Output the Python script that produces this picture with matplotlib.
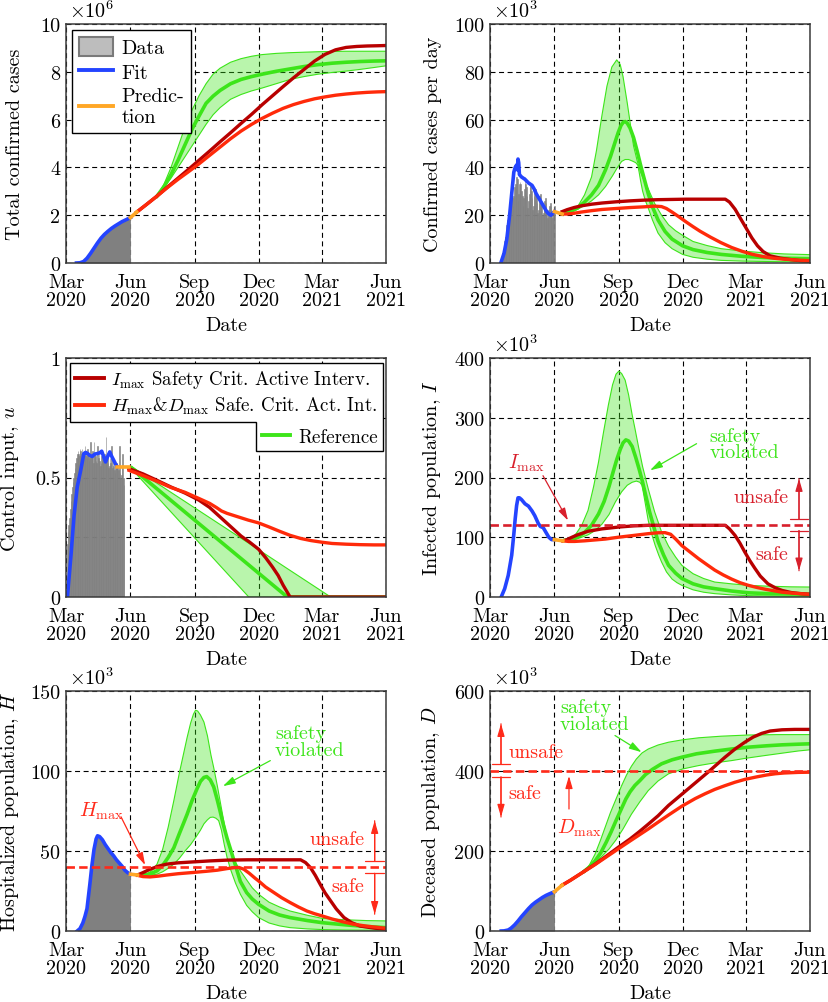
import numpy as np
import matplotlib
matplotlib.use("Agg")
import matplotlib.pyplot as plt
from matplotlib.patches import Patch, Polygon, ArrowStyle
from matplotlib.lines import Line2D

# ---------------- data (x = days since 1 Mar 2020) ----------------
month_days = [0, 92, 184, 275, 365, 457]
month_labels = ["Mar\n2020", "Jun\n2020", "Sep\n2020", "Dec\n2020", "Mar\n2021", "Jun\n2021"]

# Panel 1: total confirmed cases (x10^6)
tot_fit_day = [15, 20, 25, 30, 35, 40, 45, 50, 55, 60, 65, 70, 75, 80, 85, 92]
tot_fit_val = [0.0, 0.01, 0.06, 0.2, 0.4, 0.62, 0.84, 1.04, 1.2, 1.33, 1.45, 1.55, 1.64, 1.73, 1.8, 1.9]
tot_pred_day = [92, 101]
tot_pred_val = [1.9, 2.13]
tot_red_day = [101, 115, 130, 145, 160, 175, 190, 205, 220, 235, 250, 265, 280, 295, 310, 325, 340, 355, 370, 385, 400, 415, 430, 445, 457]
tot_imax_val = [2.13, 2.45, 2.8, 3.18, 3.55, 3.92, 4.3, 4.68, 5.07, 5.45, 5.84, 6.22, 6.62, 7.0, 7.38, 7.75, 8.1, 8.45, 8.73, 8.92, 9.02, 9.06, 9.08, 9.09, 9.1]
tot_hd_val = [2.13, 2.45, 2.8, 3.16, 3.5, 3.82, 4.15, 4.5, 4.85, 5.2, 5.52, 5.8, 6.05, 6.27, 6.47, 6.63, 6.76, 6.87, 6.95, 7.02, 7.07, 7.11, 7.14, 7.16, 7.17]
tot_ref_day = [130, 140, 150, 160, 170, 180, 190, 200, 210, 220, 235, 250, 265, 280, 300, 320, 340, 360, 380, 400, 420, 440, 457]
tot_ref_mean = [2.8, 3.2, 3.7, 4.3, 4.95, 5.6, 6.15, 6.68, 6.98, 7.22, 7.5, 7.68, 7.8, 7.9, 8.02, 8.12, 8.22, 8.3, 8.36, 8.4, 8.43, 8.45, 8.46]
tot_ref_up = [2.8, 3.3, 4.0, 4.85, 5.7, 6.4, 7.0, 7.5, 7.9, 8.15, 8.4, 8.55, 8.65, 8.72, 8.77, 8.8, 8.82, 8.84, 8.85, 8.86, 8.86, 8.86, 8.86]
tot_ref_lo = [2.8, 3.15, 3.55, 4.0, 4.45, 4.9, 5.35, 5.8, 6.2, 6.5, 6.85, 7.05, 7.2, 7.32, 7.5, 7.68, 7.8, 7.9, 7.97, 8.03, 8.1, 8.18, 8.25]

# Panel 2: confirmed cases per day (x10^3)
daily_data_day = list(range(14, 93))
daily_data_val = [0.5, 1, 1.5, 2.5, 4, 5.5, 7,
                  9, 11, 13, 16, 18, 20, 19,
                  22, 25, 27, 29, 27, 24, 28,
                  32, 33, 31, 36, 35, 26, 29,
                  33, 34, 33, 30, 28, 24, 27,
                  31, 36, 33, 32, 28, 23, 26,
                  29, 32, 33, 30, 27, 22, 24,
                  28, 30, 31, 29, 25, 21, 22,
                  25, 28, 29, 27, 24, 20, 21,
                  23, 26, 27, 25, 22, 19, 20,
                  22, 24, 25, 24, 21, 19, 20,
                  22, 24]
daily_fit_day = [16, 20, 24, 28, 31, 34, 36, 38, 39, 40, 41, 42, 45, 50, 55, 60, 63, 66, 69, 72, 75, 78, 81, 84, 87, 90, 92]
daily_fit_val = [0.5, 4, 10, 20, 29, 38, 40, 41, 39, 43.5, 42, 37, 36, 35, 33.5, 32.5, 31, 29, 27.5, 26, 24.5, 23, 21.5, 20.5, 20, 21, 21.5]
daily_pred_day = [92, 103]
daily_pred_val = [21.5, 20.5]
daily_imax_day = [103, 110, 120, 130, 145, 160, 180, 200, 220, 240, 260, 280, 300, 320, 336, 342, 350, 358, 366, 374, 382, 390, 400, 415, 430, 445, 457]
daily_imax_val = [21.5, 22.3, 23.2, 23.9, 24.6, 25.1, 25.6, 26.0, 26.3, 26.5, 26.6, 26.7, 26.7, 26.7, 26.7, 25.5, 22.5, 18.5, 14.5, 10.5, 7.2, 4.8, 3.0, 2.0, 1.4, 0.9, 0.7]
daily_hd_day = [103, 110, 120, 130, 145, 160, 180, 200, 220, 235, 245, 252, 260, 270, 280, 290, 300, 315, 330, 345, 360, 375, 390, 405, 420, 440, 457]
daily_hd_val = [20.5, 20.5, 20.8, 21.3, 21.9, 22.4, 22.8, 23.2, 23.5, 23.8, 23.6, 22.8, 21.3, 19.3, 17.2, 15.2, 13.3, 10.8, 8.5, 6.5, 4.9, 3.6, 2.7, 2.0, 1.6, 1.2, 1.0]
daily_mean_day = [105, 115, 125, 135, 145, 155, 165, 172, 178, 183, 187, 190, 193, 196, 200, 205, 210, 215, 220, 226, 232, 240, 250, 260, 275, 290, 310, 330, 360, 390, 420, 457]
daily_mean_val = [20.8, 21.5, 23, 25.5, 28.5, 32.5, 39, 44.5, 50, 54.5, 57.5, 58.8, 59.2, 58.5, 56.5, 52.5, 47, 41, 35.5, 29, 23.5, 18, 13.2, 10, 7.2, 5.6, 4.4, 3.6, 2.8, 2.3, 2.0, 1.8]
daily_up_day = [105, 115, 125, 135, 145, 152, 160, 167, 174, 181, 186, 190, 196, 200, 205, 210, 215, 220, 226, 235, 245, 255, 265, 275, 290, 310, 330, 360, 390, 420, 457]
daily_up_val = [20.8, 21.8, 23.5, 28.5, 36, 47, 62, 74, 82, 85, 83, 78, 67, 59, 49, 43, 38, 34.5, 31, 25, 20, 16, 13.5, 11.6, 9, 7.3, 6, 5, 4.3, 3.8, 3.5]
daily_lo_day = [105, 115, 125, 135, 145, 155, 165, 175, 182, 188, 193, 198, 203, 208, 211, 213, 215, 218, 222, 226, 232, 240, 250, 260, 275, 290, 310, 330, 360, 400, 457]
daily_lo_val = [20.8, 21.3, 22.5, 24, 26, 28.5, 32, 36.5, 40, 42.5, 43.3, 43.3, 42.7, 42, 41, 38, 34.5, 30, 26, 23, 18, 12.5, 8.5, 6, 3.6, 2.4, 1.6, 1.1, 0.8, 0.6, 0.4]

# Panel 3: control input u
u_data_day = list(range(2, 84))
u_data_val = [0.22, 0.27, 0.30, 0.33, 0.37, 0.40, 0.43,
              0.46, 0.48, 0.50, 0.52, 0.54, 0.56, 0.58,
              0.60, 0.61, 0.60, 0.59, 0.62, 0.61, 0.60,
              0.62, 0.60, 0.58, 0.59, 0.63, 0.60, 0.59,
              0.58, 0.62, 0.60, 0.57, 0.58, 0.65, 0.59,
              0.58, 0.61, 0.56, 0.65, 0.60, 0.59, 0.57,
              0.56, 0.63, 0.58, 0.60, 0.57, 0.55, 0.56,
              0.59, 0.60, 0.58, 0.57, 0.60, 0.56, 0.67,
              0.57, 0.59, 0.56, 0.54, 0.55, 0.58, 0.56,
              0.63, 0.54, 0.57, 0.55, 0.53, 0.52, 0.55,
              0.56, 0.55, 0.54, 0.53, 0.63, 0.52, 0.50,
              0.51, 0.55, 0.60, 0.50, 0.47]
u_fit_day = [2, 7, 11.5, 16, 21, 25.5, 28, 31, 34, 37.5, 41, 44.5, 48, 51, 54, 56.5, 59, 62.5, 65, 68.5, 71, 73.5]
u_fit_val = [0.0, 0.17, 0.34, 0.46, 0.53, 0.60, 0.605, 0.60, 0.592, 0.588, 0.598, 0.60, 0.603, 0.61, 0.585, 0.565, 0.585, 0.607, 0.59, 0.57, 0.555, 0.544]
u_pred_day = [73.5, 90]
u_pred_val = [0.544, 0.544]
u_imax_day = [90, 110, 130, 150, 170, 190, 205, 220, 235, 250, 262, 275, 285, 295, 303, 310, 315, 320, 457]
u_imax_val = [0.537, 0.515, 0.488, 0.46, 0.435, 0.405, 0.375, 0.335, 0.295, 0.255, 0.23, 0.2, 0.165, 0.125, 0.09, 0.05, 0.025, 0.0, 0.0]
u_hd_day = [90, 110, 130, 150, 170, 190, 205, 215, 222, 230, 245, 260, 275, 290, 305, 320, 335, 350, 366, 380, 400, 420, 440, 457]
u_hd_val = [0.53, 0.508, 0.484, 0.458, 0.438, 0.412, 0.392, 0.374, 0.36, 0.35, 0.336, 0.322, 0.31, 0.293, 0.275, 0.258, 0.245, 0.236, 0.229, 0.224, 0.221, 0.219, 0.218, 0.218]
u_ref_day = [94, 261, 316, 378, 457]
u_ref_mean = [0.54, 0.134, 0.0, 0.0, 0.0]
u_ref_up = [0.545, 0.225, 0.119, 0.0, 0.0]
u_ref_lo = [0.535, 0.0, 0.0, 0.0, 0.0]

# Panel 4: infected population I (x10^3)
inf_fit_day = [16, 21, 26, 31, 34, 36, 38, 40, 42, 45, 50, 55, 60, 64, 69, 72, 76, 80, 84, 88, 92]
inf_fit_val = [0, 14, 36, 70, 105, 131, 153, 166, 166, 163, 156, 152, 144, 136, 123, 118, 116, 108, 100, 96, 96]
inf_pred_day = [92, 104]
inf_pred_val = [96, 94]
inf_imax_day = [104, 110, 117, 125, 140, 160, 183, 205, 226, 260, 300, 336, 342, 350, 357, 364, 371, 378, 386, 397, 408, 417, 430, 445, 457]
inf_imax_val = [94, 96, 100, 104, 110, 114, 117, 119, 120, 120, 120, 120, 114, 103, 90, 75, 61, 48.5, 35, 22, 15, 11, 7.5, 5.5, 4.5]
inf_hd_day = [104, 112, 121, 135, 150, 165, 183, 205, 226, 240, 250, 258, 266, 274, 286, 298, 310, 321, 333, 345, 357, 369, 381, 393, 417, 437, 457]
inf_hd_val = [94, 93, 93, 94, 95.5, 97, 100, 103, 106, 107.5, 107.7, 105, 96, 86, 75, 64, 54, 45, 37, 30, 24, 19.5, 16, 13, 8, 6, 4.5]
inf_mean_day = [107, 115, 125, 135, 145, 155, 163, 170, 176, 181, 186, 190, 194, 198, 203, 208, 213, 218, 223, 228, 234, 240, 248, 255, 265, 274, 290, 305, 321, 345, 369, 400, 430, 457]
inf_mean_val = [95, 96, 100, 108, 120, 139, 160, 185, 210, 230, 247, 258, 263, 261, 252, 234, 214, 192, 167, 142, 117, 93, 70, 53, 40, 31, 22, 17, 14, 10, 7, 5.5, 5, 4.5]
inf_up_day = [107, 115, 123, 131, 140, 148, 155, 162, 169, 175, 180, 184, 188, 193, 198, 203, 207, 212, 218, 226, 235, 245, 255, 265, 274, 290, 305, 321, 345, 369, 400, 430, 457]
inf_up_val = [95, 98, 106, 120, 145, 185, 226, 275, 321, 355, 373, 378, 374, 363, 338, 305, 282, 252, 218, 181, 143, 109, 85, 67, 53, 39, 31, 25, 22, 19.5, 18, 17, 16.7]
inf_lo_day = [107, 115, 123, 131, 140, 150, 160, 170, 179, 188, 196, 203, 209, 214, 217, 219, 222, 226, 231, 236, 241, 245, 252, 260, 267, 274, 290, 305, 321, 345, 369, 400, 430, 457]
inf_lo_val = [95, 95, 97, 100, 104, 111, 122, 138, 159, 176, 187, 192, 194, 192, 187, 175, 155, 128, 105, 86, 70, 58.6, 42, 30, 24, 19.5, 12, 8, 5.6, 3.5, 2.3, 1.6, 1.2, 1.0]
I_MAX = 120

# Panel 5: hospitalized population H (x10^3)
hos_fit_day = [16, 20, 24, 27, 30, 34, 37, 40, 43, 45, 48, 52, 56, 60, 64, 68, 72, 76, 80, 84, 88, 92]
hos_fit_val = [0, 1.5, 5, 9, 14, 29, 41, 51, 57.5, 59.5, 59, 57, 54, 51.5, 49, 47, 44.5, 42.5, 40.5, 38, 36.5, 35.5]
hos_pred_day = [92, 102]
hos_pred_val = [35.5, 35]
hos_imax_day = [102, 110, 120, 132, 144, 160, 182, 205, 230, 260, 300, 335, 342, 349, 356, 363, 370, 378, 386, 397, 408, 420, 440, 457]
hos_imax_val = [35, 36.5, 38.6, 40.5, 41.8, 42.6, 43.2, 43.8, 44.3, 44.5, 44.5, 44.5, 42.8, 39.7, 34.8, 29.2, 23.8, 18.8, 13.8, 8.4, 5.2, 3.1, 1.8, 1.0]
hos_hd_day = [102, 110, 120, 132, 144, 160, 182, 200, 216, 230, 240, 247, 254, 262, 270, 275, 285, 297, 308, 320, 332, 344, 355, 366, 380, 395, 411, 430, 457]
hos_hd_val = [34.8, 34, 33.8, 34.3, 35, 35.8, 36.6, 37.3, 38, 39, 39.6, 39.7, 38.6, 36, 33, 31.3, 27.5, 24, 20.8, 17.8, 15, 12.5, 10.8, 9.4, 7.5, 5.8, 4.2, 3, 1.7]
hos_mean_day = [106, 115, 122, 130, 138, 146, 154, 162, 168, 173, 180, 187, 192, 197, 201, 206, 211, 216, 220, 225, 230, 235, 242, 249, 258, 266, 275, 290, 305, 320, 345, 366, 400, 430, 457]
hos_mean_val = [35, 35.2, 36, 37.6, 41, 46, 52, 61, 67.5, 73, 81.5, 88.8, 93.5, 96, 96.5, 94.5, 90, 82, 75, 66, 58, 51, 41, 31, 24, 20, 16.7, 12.5, 10, 8.4, 6.5, 5.2, 3.8, 2.8, 2.1]
hos_up_day = [106, 115, 122, 130, 138, 146, 154, 162, 168, 173, 178, 182, 185, 188, 192, 197, 202, 207, 211, 216, 221, 226, 230, 235, 242, 249, 258, 266, 275, 290, 305, 320, 345, 366, 400, 430, 457]
hos_up_val = [35, 35.5, 37.5, 41.8, 51, 65, 81.5, 99, 111, 121, 130, 135.5, 138, 137.5, 135, 130.6, 122, 110, 102, 91, 79, 67, 58.5, 50, 43, 37.6, 32, 27, 23, 18, 15, 12.5, 9.8, 7.9, 7, 6.5, 6.3]
hos_lo_day = [106, 115, 122, 130, 138, 146, 154, 162, 170, 178, 186, 192, 197, 202, 206, 210, 214, 218, 222, 226, 230, 235, 242, 249, 258, 266, 275, 290, 305, 320, 345, 366, 400, 430, 457]
hos_lo_val = [35, 34.8, 35, 35.5, 37, 39.2, 41.8, 45.5, 50, 54, 59, 63, 67, 69.5, 71, 71.2, 70.5, 69, 63, 54, 46, 38.5, 30, 23, 16, 12, 8.4, 5, 3.2, 2.1, 1.3, 0.9, 0.6, 0.5, 0.4]
H_MAX = 40

# Panel 6: deceased population D (x10^3)
dec_fit_day = [16, 20, 26, 30, 35, 40, 45, 50, 55, 60, 65, 70, 75, 80, 85, 92]
dec_fit_val = [0, 0.3, 2.5, 7, 15, 25, 36, 46, 56, 65, 72, 78, 84, 89, 93, 98]
dec_pred_day = [92, 103]
dec_pred_val = [98, 114.5]
dec_imax_day = [103, 115, 131, 150, 166, 183, 200, 213, 226, 240, 255, 274, 293, 312, 325, 336, 350, 364, 376, 388, 400, 417, 435, 457]
dec_imax_val = [114.5, 127, 145, 167, 187, 209, 230, 248, 267, 288, 314, 342, 370, 398, 418, 435, 455, 472, 485, 494, 500, 503, 504, 504]
dec_hd_day = [103, 115, 131, 150, 166, 183, 200, 213, 226, 240, 255, 274, 293, 307, 321, 335, 350, 364, 380, 395, 407, 420, 440, 457]
dec_hd_val = [114.5, 127, 145, 166, 185, 205, 225, 240, 255, 272, 290, 312, 331, 343, 354, 363, 372, 379, 385, 390, 393, 395, 396.5, 397]
dec_mean_day = [135, 142, 150, 158, 166, 173, 180, 187, 194, 200, 207, 214, 222, 232, 245, 260, 274, 295, 321, 345, 369, 395, 417, 440, 457]
dec_mean_val = [150, 160, 175, 195, 222, 248, 276, 303, 330, 348, 364, 376, 391, 404, 418, 428, 434.5, 443, 449.6, 455, 459.6, 463, 465.4, 467, 468]
dec_up_day = [135, 142, 150, 158, 165, 172, 180, 188, 195, 202, 209, 217, 226, 240, 255, 275, 298, 330, 369, 410, 457]
dec_up_val = [150, 165, 192, 228, 262, 296, 330, 363.5, 390, 412, 430, 445, 455, 465, 472, 478, 483, 487, 490, 491, 491]
dec_lo_day = [135, 142, 150, 160, 170, 180, 190, 202, 214, 226, 240, 255, 275, 298, 320, 345, 366, 390, 415, 440, 457]
dec_lo_val = [150, 160, 171, 187, 205, 228, 255, 292, 323, 351, 375, 393, 405, 413.6, 420, 426, 432, 438, 444, 450, 453]
D_MAX = 400

# ---------------- style ----------------
plt.rcParams['font.family'] = 'serif'
plt.rcParams['font.serif'] = ['cmr10']
plt.rcParams['mathtext.fontset'] = 'cm'
plt.rcParams['axes.unicode_minus'] = False
plt.rcParams['axes.formatter.use_mathtext'] = True
FS = 14.5
plt.rcParams['font.size'] = FS

C_DATA = '#808080'
C_FIT = '#2444ff'
C_PRED = '#ffa726'
C_DRED = '#b80000'
C_RED = '#ff2a0a'
C_GREEN = '#3de51a'
C_ANN4 = '#d8202c'
C_ANN = '#ff2a1a'
C_GTXT = '#3de51a'

fig = plt.figure(figsize=(8.29, 10.03), dpi=100)
W, H = 829.0, 1003.0
col_x = [66, 490]
row_y = [(25, 264), (359, 598), (692, 932)]
axes = []
for r in range(3):
    for c in range(2):
        x0 = col_x[c]
        t, b = row_y[r]
        axes.append(fig.add_axes([x0 / W, 1 - b / H, 320 / W, (b - t) / H]))


def style(ax, yticks, ylabels, ymax, ylabel, ylab_x, mult=None):
    ax.set_xlim(0, 457)
    ax.set_ylim(0, ymax)
    ax.set_xticks(month_days)
    ax.set_xticklabels(month_labels)
    for t in ax.get_xticklabels():
        t.set_linespacing(1.0)
    ax.set_yticks(yticks)
    ax.set_yticklabels(ylabels)
    ax.tick_params(length=0, labelsize=FS)
    ax.tick_params(axis='x', pad=7)
    ax.tick_params(axis='y', pad=4)
    ax.grid(True, color='k', linestyle=(0, (4.5, 3.2)), lw=0.8)
    ax.set_axisbelow(True)
    for s in ax.spines.values():
        s.set_color('#3a3a3a')
        s.set_linewidth(1.1)
        s.set_zorder(20)
    ax.set_xlabel('Date', fontsize=FS)
    ax.xaxis.set_label_coords(0.5, -0.222)
    ax.set_ylabel(ylabel, fontsize=FS)
    ax.yaxis.set_label_coords(ylab_x, 0.5)
    if mult:
        ax.text(0.01, 1.012, mult, transform=ax.transAxes, ha='left', va='bottom', fontsize=FS)


def band(ax, ud, uv, ld, lv, md, mv):
    ud, uv, ld, lv = map(np.asarray, (ud, uv, ld, lv))
    ax.fill(np.concatenate([ud, ld[::-1]]), np.concatenate([uv, lv[::-1]]),
            color=C_GREEN, alpha=0.36, lw=0, zorder=1)
    ax.plot(ud, uv, color=C_GREEN, lw=0.8, zorder=2)
    ax.plot(ld, lv, color=C_GREEN, lw=0.8, zorder=2)
    ax.plot(md, mv, color=C_GREEN, lw=2.6, zorder=3, solid_joinstyle='round')


def lines(ax, fd, fv, pd_, pv, imd, imv, hdd, hdv):
    ax.plot(imd, imv, color=C_DRED, lw=2.4, zorder=4, solid_joinstyle='round')
    ax.plot(hdd, hdv, color=C_RED, lw=2.4, zorder=5, solid_joinstyle='round')
    ax.plot(fd, fv, color=C_FIT, lw=2.6, zorder=6, solid_joinstyle='round')
    ax.plot(pd_, pv, color=C_PRED, lw=2.6, zorder=6)


def arrow(ax, tail, head, color, bar=False):
    ax.annotate('', xy=head, xytext=tail, zorder=8,
                arrowprops=dict(arrowstyle=ArrowStyle('-|>', head_length=0.62, head_width=0.18),
                                color=color, lw=0.9, shrinkA=0, shrinkB=0, mutation_scale=12))
    if bar:
        ax.annotate('', xy=head, xytext=tail, zorder=8,
                    arrowprops=dict(arrowstyle=ArrowStyle(']-', widthA=0.55, lengthA=0.0),
                                    color=color, lw=0.9, shrinkA=0, shrinkB=0, mutation_scale=12))


# ---- Panel 1 ----
ax = axes[0]
ax.fill_between(tot_fit_day, 0, tot_fit_val, color=C_DATA, lw=0, zorder=1)
band(ax, tot_ref_day, tot_ref_up, tot_ref_day, tot_ref_lo, tot_ref_day, tot_ref_mean)
lines(ax, tot_fit_day, tot_fit_val, tot_pred_day, tot_pred_val,
      tot_red_day, tot_imax_val, tot_red_day, tot_hd_val)
style(ax, [0, 2, 4, 6, 8, 10], ['0', '2', '4', '6', '8', '10'], 10,
      'Total confirmed cases', -0.131, r'$\times10^6$')
leg = ax.legend(handles=[Patch(fc='#bdbdbd', ec='#7a7a7a', lw=1.5),
                         Line2D([], [], color=C_FIT, lw=2.8),
                         Line2D([], [], color=C_PRED, lw=2.8)],
                labels=['Data', 'Fit', 'Predic-\ntion'],
                loc='upper left', bbox_to_anchor=(0.019, 0.975), borderaxespad=0,
                fancybox=False, edgecolor='k', framealpha=1, fontsize=FS,
                handlelength=1.7, handleheight=1.05, handletextpad=0.4,
                labelspacing=0.25, borderpad=0.35)
leg.get_frame().set_linewidth(1.0)
leg.set_zorder(15)

# ---- Panel 2 ----
ax = axes[1]
ax.bar(daily_data_day, daily_data_val, width=1.0, color=C_DATA, ec=C_DATA, lw=0.4, zorder=1)
band(ax, daily_up_day, daily_up_val, daily_lo_day, daily_lo_val, daily_mean_day, daily_mean_val)
lines(ax, daily_fit_day, daily_fit_val, daily_pred_day, daily_pred_val,
      daily_imax_day, daily_imax_val, daily_hd_day, daily_hd_val)
style(ax, [0, 20, 40, 60, 80, 100], ['0', '20', '40', '60', '80', '100'], 100,
      'Confirmed cases per day', -0.15, r'$\times10^3$')

# ---- Panel 3 ----
ax = axes[2]
ax.bar(u_data_day, u_data_val, width=1.0, color=C_DATA, ec=C_DATA, lw=0.4, zorder=1)
band(ax, u_ref_day, u_ref_up, u_ref_day, u_ref_lo, u_ref_day, u_ref_mean)
lines(ax, u_fit_day, u_fit_val, u_pred_day, u_pred_val,
      u_imax_day, u_imax_val, u_hd_day, u_hd_val)
style(ax, [0, 0.25, 0.5, 0.75, 1.0], ['0', '', '0.5', '', '1'], 1.0,
      r'Control input, $u$', -0.142)
LFS = 13.6
leg1 = ax.legend(handles=[Line2D([], [], color=C_DRED, lw=2.8),
                          Line2D([], [], color=C_RED, lw=2.8)],
                 labels=[r'$I_{\rm max}$ Safety Crit. Active Interv.',
                         r'$H_{\rm max}$&$D_{\rm max}$ Safe. Crit. Act. Int.'],
                 loc='upper right', bbox_to_anchor=(0.991, 0.98), borderaxespad=0,
                 fancybox=False, edgecolor='none', framealpha=1, fontsize=LFS,
                 handlelength=1.5, handletextpad=0.4, labelspacing=0.25, borderpad=0.3)
leg1.set_zorder(15)
ax.add_artist(leg1)
fig.canvas.draw()
rend = fig.canvas.get_renderer()
b1 = leg1.get_frame().get_window_extent(rend)
b1_ax = ax.transAxes.inverted().transform([[b1.x1, b1.y0]])[0]
leg2 = ax.legend(handles=[Line2D([], [], color=C_GREEN, lw=2.8)], labels=['Reference'],
                 loc='upper right', bbox_to_anchor=(b1_ax[0], b1_ax[1]), borderaxespad=0,
                 fancybox=False, edgecolor='none', framealpha=1, fontsize=LFS,
                 handlelength=1.5, handletextpad=0.4, borderpad=0.3)
leg2.set_zorder(15)
fig.canvas.draw()
b1 = leg1.get_frame().get_window_extent(rend)
b2 = leg2.get_frame().get_window_extent(rend)
verts_disp = [(b1.x0, b1.y1), (b1.x1, b1.y1), (b1.x1, b2.y0), (b2.x0, b2.y0),
              (b2.x0, b1.y0), (b1.x0, b1.y0)]
verts_fig = fig.transFigure.inverted().transform(verts_disp)
outline = Polygon(verts_fig, closed=True, fill=False, edgecolor='k', lw=1.0,
                  transform=fig.transFigure, zorder=30)
fig.add_artist(outline)

# ---- Panel 4 ----
ax = axes[3]
band(ax, inf_up_day, inf_up_val, inf_lo_day, inf_lo_val, inf_mean_day, inf_mean_val)
lines(ax, inf_fit_day, inf_fit_val, inf_pred_day, inf_pred_val,
      inf_imax_day, inf_imax_val, inf_hd_day, inf_hd_val)
ax.axhline(I_MAX, color=C_ANN4, lw=1.9, linestyle=(0, (3.2, 1.6)), zorder=7)
style(ax, [0, 100, 200, 300, 400], ['0', '100', '200', '300', '400'], 400,
      r'Infected population, $I$', -0.147, r'$\times10^3$')
ax.text(52, 226, r'$I_{\rm max}$', color=C_ANN4, ha='center', va='center', fontsize=FS)
arrow(ax, (75.7, 203), (111.4, 128), C_ANN4)
ax.text(314, 256, 'safety\nviolated', color=C_GTXT, ha='left', va='center',
        fontsize=FS, linespacing=0.9)
arrow(ax, (295, 256.6), (228.5, 212), C_GREEN)
ax.text(426, 167, 'unsafe', color=C_ANN4, ha='right', va='center', fontsize=FS)
ax.text(426, 72.5, 'safe', color=C_ANN4, ha='right', va='center', fontsize=FS)
arrow(ax, (441.3, 131), (441.3, 198), C_ANN4, bar=True)
arrow(ax, (441.3, 111), (441.3, 44), C_ANN4, bar=True)

# ---- Panel 5 ----
ax = axes[4]
ax.fill_between(hos_fit_day, 0, hos_fit_val, color=C_DATA, lw=0, zorder=1)
band(ax, hos_up_day, hos_up_val, hos_lo_day, hos_lo_val, hos_mean_day, hos_mean_val)
lines(ax, hos_fit_day, hos_fit_val, hos_pred_day, hos_pred_val,
      hos_imax_day, hos_imax_val, hos_hd_day, hos_hd_val)
ax.axhline(H_MAX, color=C_ANN, lw=1.9, linestyle=(0, (3.2, 1.6)), zorder=7)
style(ax, [0, 50, 100, 150], ['0', '50', '100', '150'], 150,
      r'Hospitalized population, $H$', -0.142, r'$\times10^3$')
ax.text(51, 75.2, r'$H_{\rm max}$', color=C_ANN, ha='center', va='center', fontsize=FS)
arrow(ax, (78.5, 71.4), (113, 41.2), C_ANN)
ax.text(298.6, 118.6, 'safety\nviolated', color=C_GTXT, ha='left', va='center',
        fontsize=FS, linespacing=0.9)
arrow(ax, (291.8, 106.5), (224, 90.5), C_GREEN)
ax.text(426, 57.5, 'unsafe', color=C_ANN, ha='right', va='center', fontsize=FS)
ax.text(426, 28.2, 'safe', color=C_ANN, ha='right', va='center', fontsize=FS)
arrow(ax, (440.8, 43.9), (440.8, 68.9), C_ANN, bar=True)
arrow(ax, (440.8, 36), (440.8, 10.5), C_ANN, bar=True)

# ---- Panel 6 ----
ax = axes[5]
ax.fill_between(dec_fit_day, 0, dec_fit_val, color=C_DATA, lw=0, zorder=1)
band(ax, dec_up_day, dec_up_val, dec_lo_day, dec_lo_val, dec_mean_day, dec_mean_val)
lines(ax, dec_fit_day, dec_fit_val, dec_pred_day, dec_pred_val,
      dec_imax_day, dec_imax_val, dec_hd_day, dec_hd_val)
ax.axhline(D_MAX, color=C_ANN, lw=1.9, linestyle=(0, (3.2, 1.6)), zorder=7)
style(ax, [0, 200, 400, 600], ['0', '200', '400', '600'], 600,
      r'Deceased population, $D$', -0.15, r'$\times10^3$')
ax.text(100, 538.8, 'safety\nviolated', color=C_GTXT, ha='left', va='center',
        fontsize=FS, linespacing=0.9)
arrow(ax, (178.5, 488.7), (216.6, 447), C_GREEN)
ax.text(26, 448.6, 'unsafe', color=C_ANN, ha='left', va='center', fontsize=FS)
ax.text(26, 344, 'safe', color=C_ANN, ha='left', va='center', fontsize=FS)
arrow(ax, (15.7, 418), (15.7, 518), C_ANN, bar=True)
arrow(ax, (15.7, 385), (15.7, 285), C_ANN, bar=True)
arrow(ax, (112.8, 305), (112.8, 387.7), C_ANN)
ax.text(127, 259, r'$D_{\rm max}$', color=C_ANN, ha='center', va='center', fontsize=FS)

fig.savefig('out.png', dpi=100)
